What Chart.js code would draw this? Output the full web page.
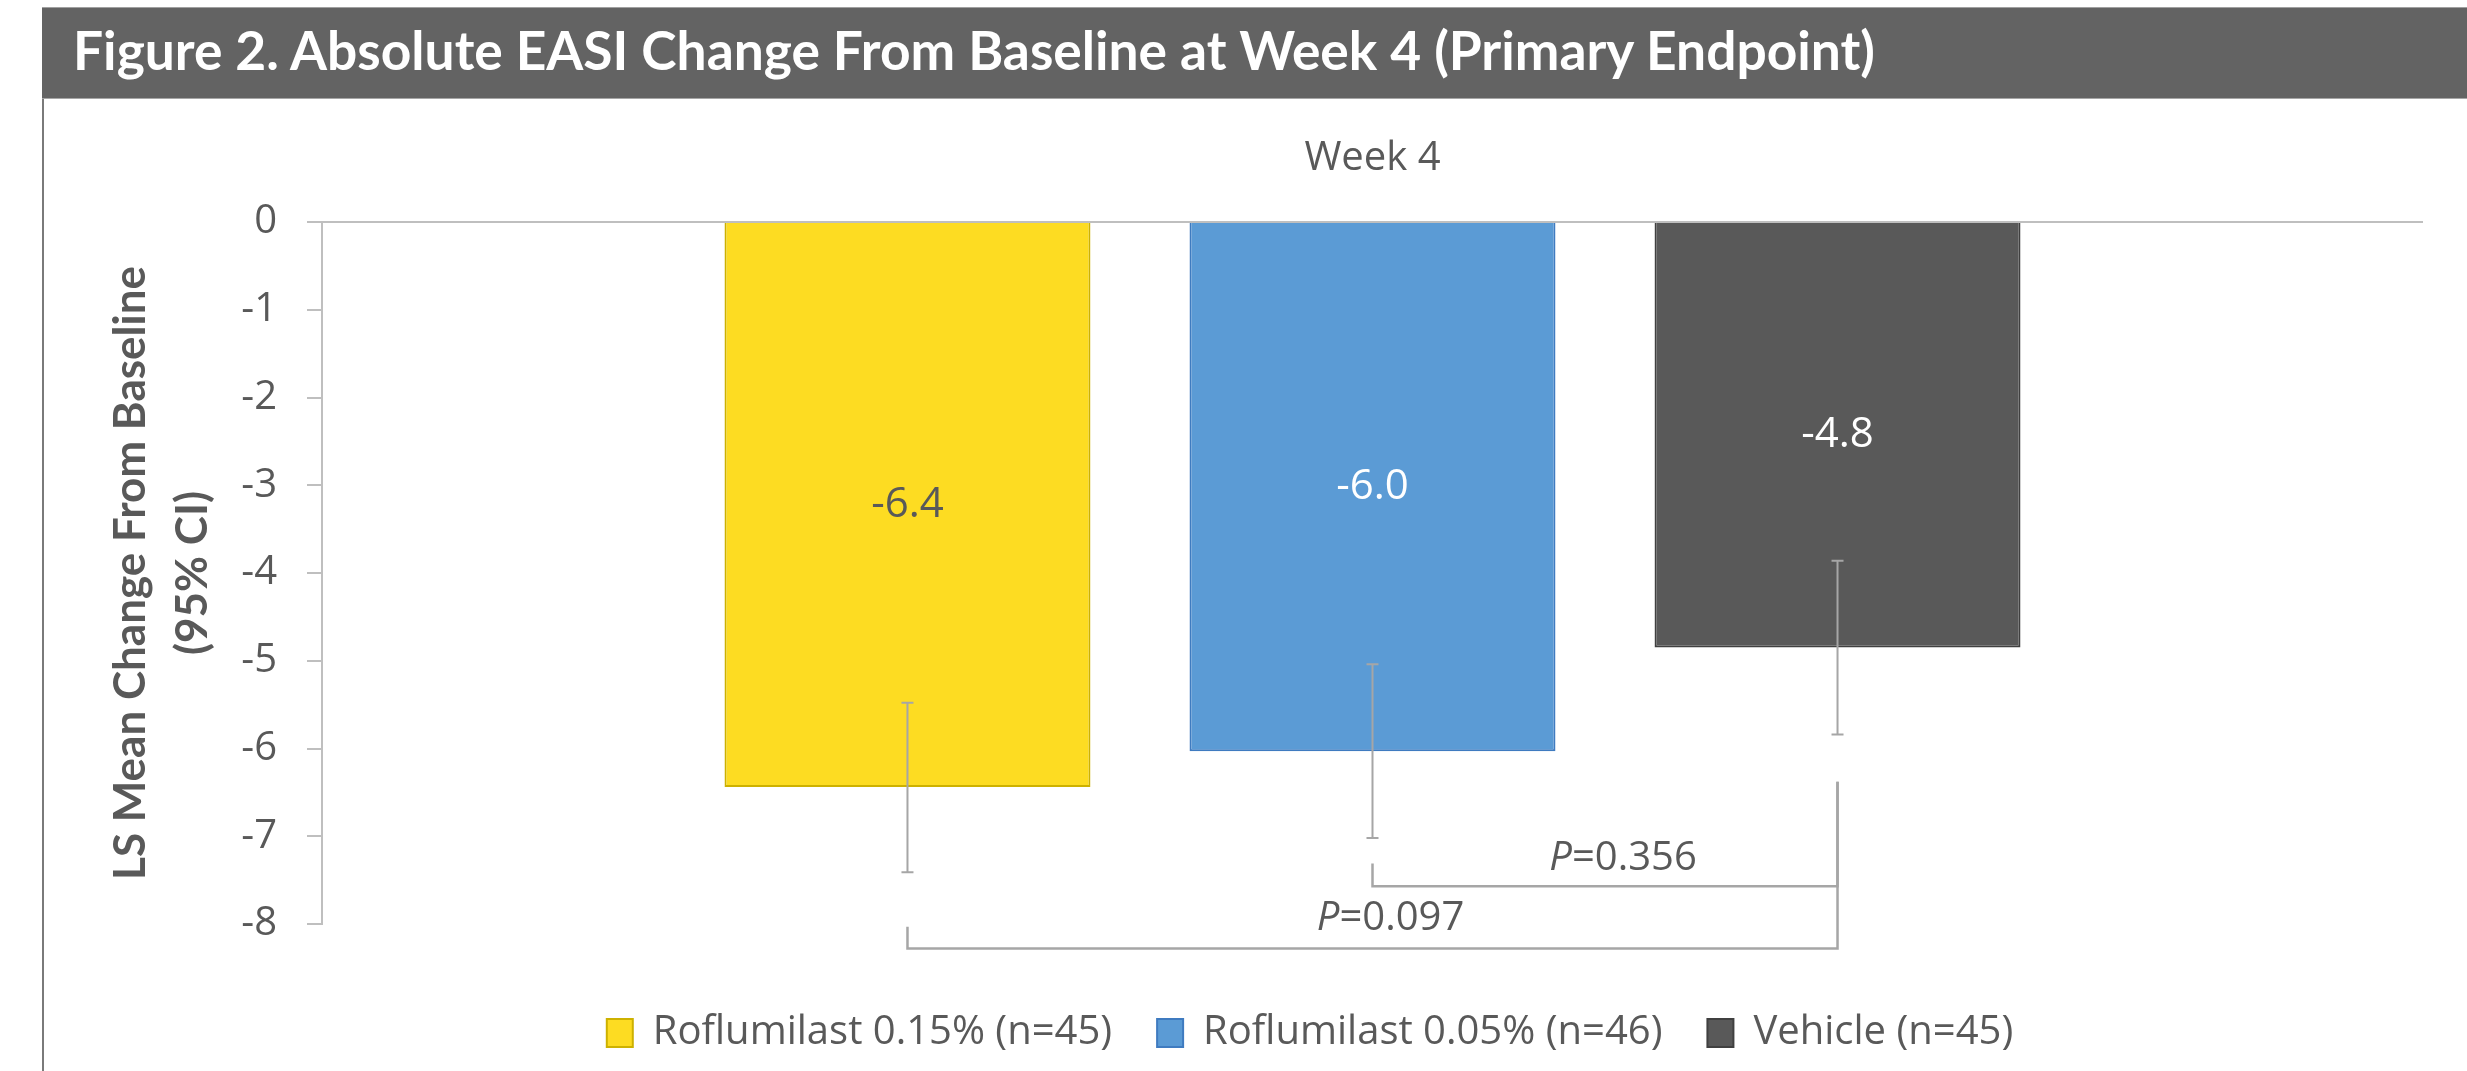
<!DOCTYPE html>
<html>
<head>
<meta charset="utf-8">
<script src="https://cdn.jsdelivr.net/npm/chart.js@4.4.1/dist/chart.umd.min.js"></script>
<style>
  html, body { margin: 0; padding: 0; background: #ffffff; }
  body { width: 2467px; height: 1071px; position: relative; overflow: hidden; }
  #header {
    position: absolute; left: 42px; top: 7px; width: 2425px; height: 92px;
    background: #636363; border-top: 1px solid #a0a0a0; border-bottom: 1px solid #a6a6a6;
    box-sizing: border-box; overflow: hidden;
  }
  #headerText {
    position: absolute; left: 31px; top: 10px; white-space: nowrap;
    font-family: Lato, 'Open Sans', sans-serif; font-weight: 700; font-size: 54px;
    line-height: 1.2; color: #ffffff; transform-origin: 0 0;
  }
  #frameLeft { position: absolute; left: 42px; top: 99px; width: 2px; height: 972px; background: #7a7a7a; }
  #chartBox { position: absolute; left: 45px; top: 100px; width: 2422px; height: 971px; }
</style>
</head>
<body>
<div id="header"><span id="headerText">Figure 2. Absolute EASI Change From Baseline at Week 4 (Primary Endpoint)</span></div>
<div id="frameLeft"></div>
<div id="chartBox"><canvas id="easiChart"></canvas></div>
<script>
// Week 4 absolute EASI change, LS mean with 95% CI
const categories = ['Week 4'];
const seriesNames = ['Roflumilast 0.15% (n=45)', 'Roflumilast 0.05% (n=46)', 'Vehicle (n=45)'];
const lsMeans = [-6.44, -6.03, -4.85];
const ciLower = [-7.41, -7.02, -5.84];
const ciUpper = [-5.48, -5.04, -3.86];
const valueLabels = ['-6.4', '-6.0', '-4.8'];

// p-value brackets: [from series, to series]
const pValues = ['0.356', '0.097'];
const bracketPairs = [[1, 2], [0, 2]];
const bracketLevels = [-7.57, -8.28];
const bracketFromTops = [-7.31, -8.03];
const bracketToTops = [-6.38, -6.38];
const pLabelLevels = [-7.25, -7.94];

const fillColors = ['#FDDC22', '#5B9BD5', '#595959'];
const edgeColors = ['#CDB100', '#3F7BC0', '#404040'];
const labelColors = ['#595959', '#ffffff', '#ffffff'];
const textColor = '#595959';
const lineGray = '#A6A6A6';

// squeeze the header text to the width it has in the figure
const head = document.getElementById('headerText');
head.style.transform = `scaleX(${1802 / head.getBoundingClientRect().width})`;

const errorBars = {
  id: 'errorBars',
  afterDatasetsDraw(chart) {
    const { ctx } = chart;
    const y = chart.scales.y;
    ctx.save();
    ctx.strokeStyle = lineGray;
    ctx.lineWidth = 2;
    lsMeans.forEach((_, i) => {
      const bar = chart.getDatasetMeta(i).data[0];
      const yTop = y.getPixelForValue(ciUpper[i]);
      const yBot = y.getPixelForValue(ciLower[i]);
      ctx.beginPath();
      ctx.moveTo(bar.x, yTop); ctx.lineTo(bar.x, yBot);
      ctx.moveTo(bar.x - 6, yTop); ctx.lineTo(bar.x + 6, yTop);
      ctx.moveTo(bar.x - 6, yBot); ctx.lineTo(bar.x + 6, yBot);
      ctx.stroke();
    });

    // value labels in the middle of each bar
    ctx.font = "42px 'Open Sans'";
    ctx.textAlign = 'center';
    ctx.textBaseline = 'middle';
    valueLabels.forEach((txt, i) => {
      const bar = chart.getDatasetMeta(i).data[0];
      ctx.fillStyle = labelColors[i];
      ctx.fillText(txt, bar.x, (bar.y + bar.base) / 2);
    });
    ctx.restore();
  }
};

const pBrackets = {
  id: 'pBrackets',
  afterDraw(chart) {
    const { ctx } = chart;
    const y = chart.scales.y;
    ctx.save();
    ctx.strokeStyle = lineGray;
    ctx.lineWidth = 2.5;
    bracketPairs.forEach(([a, b], k) => {
      const xa = chart.getDatasetMeta(a).data[0].x;
      const xb = chart.getDatasetMeta(b).data[0].x;
      const yl = y.getPixelForValue(bracketLevels[k]);
      ctx.beginPath();
      ctx.moveTo(xa, y.getPixelForValue(bracketFromTops[k]));
      ctx.lineTo(xa, yl);
      ctx.lineTo(xb, yl);
      ctx.lineTo(xb, y.getPixelForValue(bracketToTops[k]));
      ctx.stroke();

      // "P=0.xxx" with an italic P
      const cx = (xa + xb) / 2 + 18;
      const cy = y.getPixelForValue(pLabelLevels[k]);
      const rest = '=' + pValues[k];
      ctx.font = "italic 40px 'Open Sans'";
      const wP = ctx.measureText('P').width;
      ctx.font = "40px 'Open Sans'";
      const wR = ctx.measureText(rest).width;
      const x0 = cx - (wP + wR) / 2;
      ctx.fillStyle = textColor;
      ctx.textAlign = 'left';
      ctx.textBaseline = 'middle';
      ctx.font = "italic 40px 'Open Sans'";
      ctx.fillText('P', x0, cy);
      ctx.font = "40px 'Open Sans'";
      ctx.fillText(rest, x0 + wP, cy);
    });
    ctx.restore();
  }
};

new Chart(document.getElementById('easiChart'), {
  type: 'bar',
  data: {
    labels: categories,
    datasets: seriesNames.map((name, i) => ({
      label: name,
      data: [lsMeans[i]],
      backgroundColor: fillColors[i],
      borderColor: edgeColors[i],
      borderWidth: 2,
      borderSkipped: 'start',
      categoryPercentage: 0.664,
      barPercentage: 0.787
    }))
  },
  options: {
    responsive: true,
    maintainAspectRatio: false,
    animation: false,
    layout: { autoPadding: false, padding: { left: 152, right: 44, top: 35, bottom: 8 } },
    plugins: {
      tooltip: { enabled: false },
      legend: {
        position: 'bottom',
        title: { display: true, text: '', font: { size: 1 }, padding: { top: 21, bottom: 21.8 } },
        labels: {
          color: textColor,
          font: { family: "'Open Sans'", size: 40 },
          boxWidth: 26,
          boxHeight: 28,
          padding: 45
        }
      }
    },
    scales: {
      x: {
        position: 'top',
        grid: { display: false, drawTicks: false },
        border: { display: false },
        ticks: { color: textColor, font: { family: "'Open Sans'", size: 40 }, padding: 39 },
        afterFit(scale) { scale.height = 87; }
      },
      y: {
        min: -8,
        max: 0,
        ticks: { stepSize: 1, color: textColor, font: { family: "'Open Sans'", size: 40 }, padding: 30 },
        grid: {
          color: ctx => (ctx.tick && ctx.tick.value === 0 ? '#BFBFBF' : 'rgba(0,0,0,0)'),
          tickColor: '#BFBFBF',
          tickLength: 15,
          lineWidth: 2
        },
        border: { display: true, color: '#BFBFBF', width: 2 },
        title: {
          display: true,
          text: ['LS Mean Change From Baseline', '(95% CI)'],
          color: textColor,
          font: { family: 'Lato', size: 44, weight: 'bold', lineHeight: 1.41 },
          padding: { top: -97, bottom: 20 }
        },
        afterFit(scale) { scale.width = 125; }
      }
    }
  },
  plugins: [errorBars, pBrackets]
});
</script>
</body>
</html>
